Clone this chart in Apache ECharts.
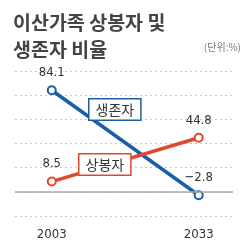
<!DOCTYPE html>
<html>
<head>
<meta charset="utf-8">
<script src="https://cdn.jsdelivr.net/npm/echarts@6/dist/echarts.min.js"></script>
<style>
  html, body { margin: 0; padding: 0; background: #fff; }
  #chart { width: 250px; height: 251px; }
</style>
</head>
<body>
<div id="chart"></div>
<script>
// 연도 / 계열 값
const years = [2003, 2033];
const survivors = [84.1, -2.8];   // 생존자
const reunited = [8.5, 44.8];     // 상봉자

const BLUE = '#1a5fa6';
const RED = '#e0482e';
const FONT = '"Noto Sans CJK KR", "Noto Sans", sans-serif';
const NUM_FONT = '"DejaVu Sans Condensed", "Liberation Sans Narrow", sans-serif';

const chart = echarts.init(document.getElementById('chart'));

function lineSeries(name, vals, color) {
  return {
    type: 'line',
    name: name,
    data: years.map((y, i) => [y, vals[i]]),
    symbol: 'circle',
    symbolSize: 8,
    lineStyle: { color: color, width: 3.5 },
    itemStyle: { color: '#fff', borderColor: color, borderWidth: 2 },
    label: {
      show: true,
      position: 'top',
      distance: 6,
      fontFamily: NUM_FONT,
      fontSize: 13,
      color: '#333',
      formatter: p => (p.value[1] < 0 ? '\u2212' + Math.abs(p.value[1]) : String(p.value[1]))
    },
    z: 3
  };
}

chart.setOption({
  animation: false,
  title: {
    text: '이산가족 상봉자 및\n생존자 비율',
    left: 8,
    top: 4,
    textStyle: { fontFamily: FONT, fontSize: 19.5, fontWeight: 'bold', color: '#444', lineHeight: 27 }
  },
  graphic: [
    {
      type: 'text', right: 9, top: 42,
      style: { text: '(단위:%)', fontFamily: FONT, fontSize: 10, fill: '#777' }
    },
    {
      type: 'text', left: 88, top: 98,
      style: {
        text: '생존자', fontFamily: FONT, fontSize: 14, fill: '#333',
        backgroundColor: '#fff', borderColor: BLUE, borderWidth: 1.5,
        padding: [3, 6, 3, 6]
      },
      z: 10
    },
    {
      type: 'text', left: 78, top: 153,
      style: {
        text: '상봉자', fontFamily: FONT, fontSize: 14, fill: '#333',
        backgroundColor: '#fff', borderColor: RED, borderWidth: 1.5,
        padding: [3, 6, 3, 6]
      },
      z: 10
    }
  ],
  grid: { left: 15, right: 17, top: 71, bottom: 35 },
  xAxis: {
    type: 'value',
    min: 1995.5,
    max: 2040,
    axisLine: { show: false },
    axisTick: { show: false },
    splitLine: { show: false },
    axisLabel: {
      customValues: years,
      formatter: v => String(v),
      margin: 12,
      fontFamily: NUM_FONT,
      fontSize: 13,
      color: '#333'
    }
  },
  yAxis: {
    type: 'value',
    min: -20,
    max: 100,
    interval: 20,
    axisLabel: { show: false },
    axisTick: { show: false },
    axisLine: { show: false },
    splitLine: { lineStyle: { color: '#c8c8c8', type: [2, 3], width: 1 } }
  },
  series: [
    lineSeries('생존자', survivors, BLUE),
    Object.assign(lineSeries('상봉자', reunited, RED), {
      markLine: {
        silent: true,
        symbol: 'none',
        label: { show: false },
        lineStyle: { color: '#aaa', type: 'solid', width: 1.5 },
        data: [{ yAxis: 0 }]
      }
    })
  ]
});
</script>
</body>
</html>
